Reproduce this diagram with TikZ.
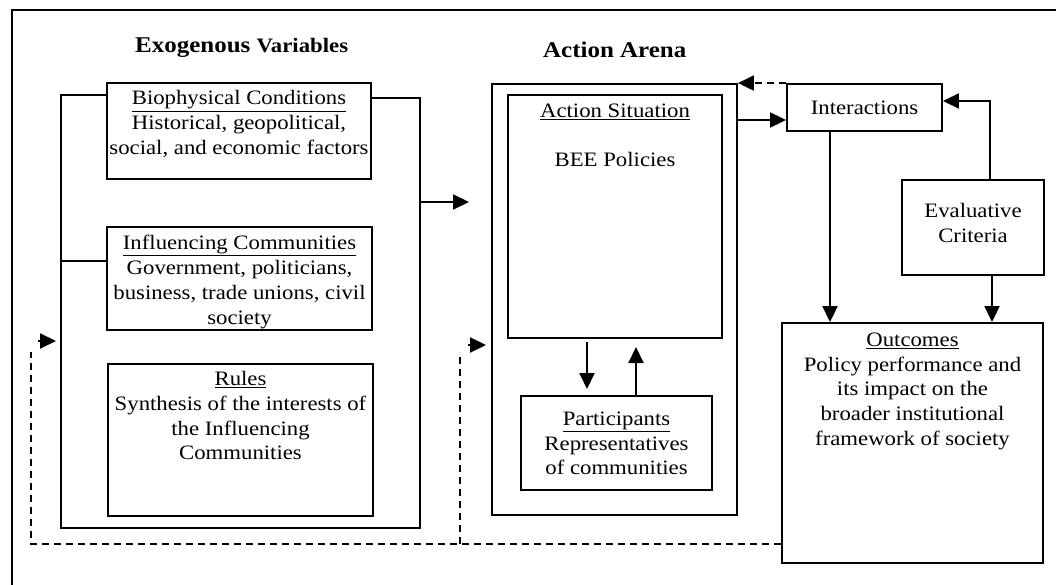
\documentclass[tikz,border=0pt]{standalone}
\usepackage{fontspec}
\setmainfont{Liberation Serif}[FakeStretch=1.11]
\usetikzlibrary{arrows.meta}
\tikzset{
  box/.style={draw, line width=1.9pt, rectangle, inner sep=0pt},
  txt/.style={anchor=north, align=center, inner sep=0pt, font=\fontsize{20.5}{24.8}\selectfont},
  tip/.style={-{Triangle[length=16pt,width=15pt]}},
  conn/.style={line width=2pt, tip},
  dconn/.style={line width=2pt, dash pattern=on 7pt off 5pt, tip},
  plain/.style={line width=2pt},
  dplain/.style={line width=2pt, dash pattern=on 7pt off 5pt},
}
\begin{document}
\begin{tikzpicture}[x=1pt,y=-1pt]
\useasboundingbox (0,0) rectangle (1056,585);
% outer frame (cropped)
\draw[line width=2.8pt] (1056,10) -- (12,10) -- (12,585);
% headers
\node[anchor=base west, inner sep=0pt] (hexo) at (135,53) {\fontsize{22.5}{25}\selectfont\bfseries Exogenous {\fontsize{20.5}{25}\selectfont Variables}};
\node[anchor=base west, inner sep=0pt] (hact) at (543,58) {\fontsize{22.5}{25}\selectfont\bfseries Action Arena};
% exogenous boxes
\node[box, minimum width=264pt, minimum height=96pt] (bio) at (239,131) {};
\node[txt] (biot) at (239,90.5) {\underline{Biophysical Conditions}\\Historical, geopolitical,\\social, and economic factors};
\node[box, minimum width=265pt, minimum height=103pt] (inf) at (239.5,278.5) {};
\node[txt] (inft) at (239.5,235) {\underline{Influencing Communities}\\Government, politicians,\\business, trade unions, civil\\society};
\node[box, minimum width=265pt, minimum height=152pt] (rul) at (240.5,440) {};
\node[txt] (rult) at (240.5,371) {\underline{Rules}\\Synthesis of the interests of\\the Influencing\\Communities};
% exogenous frame
\coordinate (e1) at (61,95);
\coordinate (e2) at (61,528);
\coordinate (e3) at (420,528);
\coordinate (e4) at (420,98);
\coordinate (e5) at (61,261);
\draw[plain] (bio.west |- e1) -- (e1) -- (e2) -- (e3) -- (e4) -- (bio.east |- e4);
\draw[plain] (e5) -- (inf.west |- e5);
% action arena
\node[box, minimum width=245pt, minimum height=431pt] (arena) at (614.5,299.5) {};
\node[box, minimum width=214pt, minimum height=243pt] (sit) at (615,216.5) {};
\node[txt] (sitt) at (615,103.5) {\underline{Action Situation}\\[24.8pt]BEE Policies};
\node[box, minimum width=191pt, minimum height=94pt] (part) at (616.5,443) {};
\node[txt] (partt) at (616.5,411.5) {\underline{Participants}\\Representatives\\of communities};
\coordinate (ex) at (420,202);
\draw[conn] (ex) -- (469,202);
\draw[conn] (587,342) -- (587,389);
\draw[conn] (636,396) -- (636,347);
% right part
\node[box, minimum width=155pt, minimum height=47pt] (int) at (864.5,107.5) {};
\node[txt, anchor=center] (intt) at (864.5,107.5) {Interactions};
\node[box, minimum width=142pt, minimum height=95pt] (eva) at (973,227.5) {};
\node[txt] (evat) at (973,203.5) {Evaluative\\Criteria};
\node[box, minimum width=261pt, minimum height=240pt] (out) at (912.5,443) {};
\node[txt] (outt) at (912.5,332.5) {\underline{Outcomes}\\Policy performance and\\its impact on the\\broader institutional\\framework of society};
\draw[conn] (arena.east |- 0,120) -- (int.west |- 0,120);
\draw[dconn] (int.north west) -- (arena.north east);
\draw[conn] (eva.north -| 990,0) -- (990,101) -- (int.east |- 0,101);
\draw[conn] (int.south -| 830,0) -- (out.north -| 830,0);
\draw[conn] (eva.south -| 992,0) -- (out.north -| 992,0);
% feedback dashed
\coordinate (f1) at (31,544);
\coordinate (f2) at (31,341);
\coordinate (f3) at (460,544);
\coordinate (f4) at (460,345);
\draw[dplain] (out.west |- f1) -- (f1) -- (31,352);
\draw[conn] (38,341) -- (56,341);
\draw[dplain] (f3) -- (460,352);
\draw[conn] (468,345) -- (486,345);
\end{tikzpicture}
\end{document}
